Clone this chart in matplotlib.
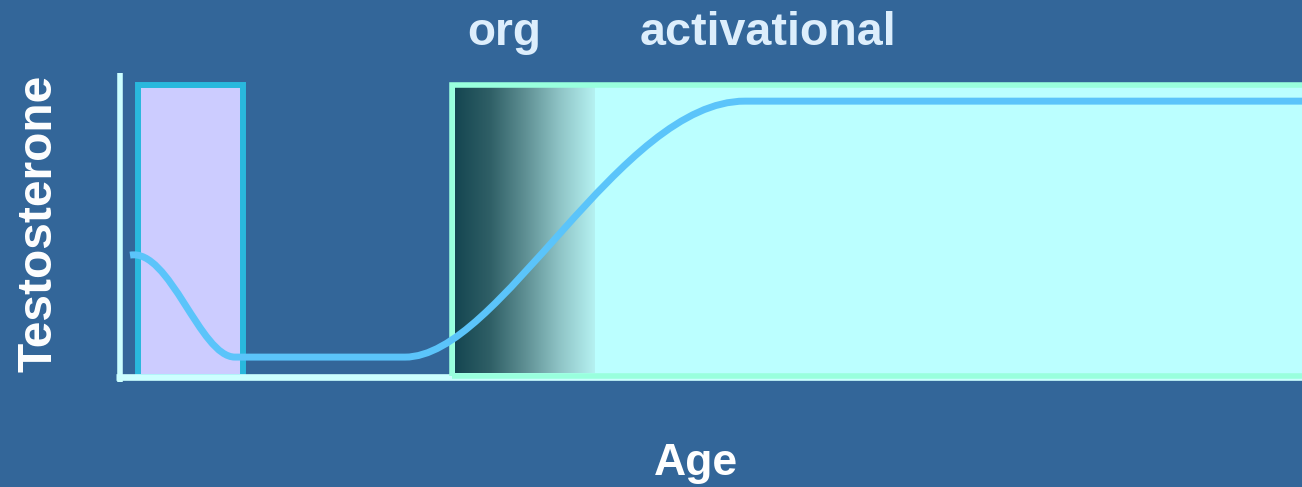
import numpy as np
import matplotlib
matplotlib.use("Agg")
import matplotlib.pyplot as plt
from matplotlib.patches import Rectangle, PathPatch
from matplotlib.path import Path
from matplotlib.colors import LinearSegmentedColormap

# ---- data (age units 0-100, testosterone units 0-100) ----
# testosterone curve as cubic Bezier segments: start, (ctrl1, ctrl2, end) ...
curve_x = [0.89, 4.27, 6.80, 9.76, 23.71, 24.13, 32.16, 42.31, 52.87, 101.0]
curve_y = [39.4, 41.7, 6.3, 6.3, 6.3, 6.3, 6.3, 89.4, 89.4, 89.4]
curve_codes = ["M", "C", "C", "C", "L", "L", "C", "C", "C", "L"]

org_window = (1.56, 10.48)        # organizational period (age)
act_start = 28.12                 # start of activational period
puberty_fade = (28.36, 40.19)     # gradient region
panel_top = 94.5

labels = {"org": (32.5, "org", 33), "act": (54.8, "activational", 33.6)}
xlabel = "Age"
ylabel = "Testosterone"

# ---- figure ----
W, H, DPI = 1302, 487, 100
bg = "#336699"
fig = plt.figure(figsize=(W / DPI, H / DPI), dpi=DPI, facecolor=bg)
ax = fig.add_axes([0, 0, 1, 1])
ax.set_facecolor(bg)
ax.set_xlim(-119.5 / 11.83, (1302 - 119.5) / 11.83)
ax.set_ylim((376.5 - 487) / 3.08, 376.5 / 3.08)
ax.axis("off")

font = "Liberation Sans"

# organizational box
ax.add_patch(Rectangle((org_window[0], 0.0), org_window[1] - org_window[0],
                       panel_top, facecolor="#ccccff", edgecolor="#29b8dd",
                       linewidth=4.3, zorder=1))

# axis lines
ax.plot([-0.3, 101], [0, 0], color="#ccffff", linewidth=4.8, zorder=2,
        solid_capstyle="butt")
ax.plot([0, 0], [-1.7, 98.4], color="#ccffff", linewidth=4.0, zorder=6,
        solid_capstyle="butt")

# activational panel
ax.add_patch(Rectangle((act_start, 0.2), 110 - act_start, panel_top - 0.2,
                       facecolor="#bbffff", edgecolor="none", zorder=3))
cmap = LinearSegmentedColormap.from_list(
    "fade", ["#154651", "#2f5f66", "#5e8f93", "#8fc4c6", "#b5f1f1"])
grad = np.linspace(0, 1, 256).reshape(1, -1)
ax.imshow(grad, cmap=cmap, aspect="auto", interpolation="bilinear",
          extent=[puberty_fade[0], puberty_fade[1], 1.1, 93.7], zorder=3.5)
ax.add_patch(Rectangle((act_start, 0.2), 110 - act_start, panel_top - 0.2,
                       facecolor="none", edgecolor="#99ffdd", linewidth=4.0,
                       zorder=4))

# testosterone curve
code_map = {"M": Path.MOVETO, "C": Path.CURVE4, "L": Path.LINETO}
path = Path(np.column_stack([curve_x, curve_y]), [code_map[c] for c in curve_codes])
ax.add_patch(PathPatch(path, facecolor="none", edgecolor="#5bc4fa",
                       linewidth=5.0, capstyle="butt", zorder=5))

# labels
for key, (x, t, fs) in labels.items():
    ax.text(x, 107.6, t, ha="center", va="baseline", fontsize=fs,
            fontweight="bold", color="#ddeefc", family=font)
ax.text(48.7, -32.0, xlabel, ha="center", va="baseline", fontsize=32,
        fontweight="bold", color="white", family=font)
ax.text(-5.71, 49.7, ylabel, ha="center", va="baseline", rotation=90,
        rotation_mode="anchor", fontsize=34.5, fontweight="bold",
        color="white", family=font)

fig.savefig("out.png", dpi=DPI, facecolor=bg)
